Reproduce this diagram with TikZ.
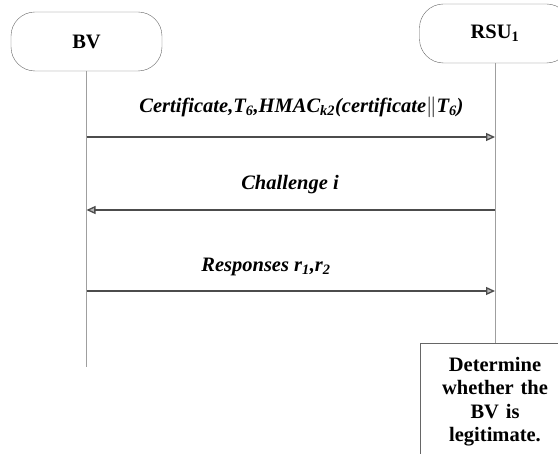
\documentclass[tikz,border=0pt]{standalone}
\usepackage{fontspec}
\setmainfont{Liberation Serif}
\usetikzlibrary{arrows.meta}

\def\bigfont{\fontsize{20.5}{23.5}\selectfont}

\tikzset{
    actor/.style={draw=gray!80!black, fill=white, rounded corners=24pt,
        minimum width=151pt, minimum height=59pt, inner sep=0pt,
        font=\bfseries\bigfont},
    lifeline/.style={draw=gray!75, line width=1pt},
    msg/.style={draw=black!70, line width=1.3pt,
        -{Triangle[length=9pt,width=8pt,fill=gray!55,color=black!70]}},
    msglabel/.style={font=\bfseries\itshape\bigfont, inner sep=0pt},
    checkbox/.style={text width=127pt, align=center, anchor=north,
        inner xsep=11.5pt, inner ysep=14pt, font=\bfseries\bigfont},
    boxline/.style={draw=gray!80!black, fill=white}
}

\begin{document}
\begin{tikzpicture}[x=1pt,y=-1pt]

\useasboundingbox (0,0) rectangle (558,454);
\clip (0,0) rectangle (558,454);

% actors
\node[actor] (bv) at (86.5,41.5) {BV};
\node[actor] (rsu) at (495,33.5) {RSU\textsubscript{1}};

% result box, runs past the lower edge
\fill[white] (420,343) rectangle (570,470);
\node[checkbox] (check) at (495,343) {Determine\\whether the\\BV is\\legitimate.};
\draw[boxline, fill=none] (check.north west) rectangle (check.east |- 0,470);

% lifelines
\coordinate (bvend) at (bv.south |- 0,367);
\draw[lifeline] (bv.south) -- (bvend);
\draw[lifeline] (rsu.south) -- (check.north);

% messages
\coordinate (bv1) at (bv.south |- 0,137);
\coordinate (rsu1) at (rsu.south |- 0,137);
\coordinate (bv2) at (bv.south |- 0,210);
\coordinate (rsu2) at (rsu.south |- 0,210);
\coordinate (bv3) at (bv.south |- 0,291);
\coordinate (rsu3) at (rsu.south |- 0,291);

\draw[msg] (bv1) -- (rsu1);
\draw[msg] (rsu2) -- (bv2);
\draw[msg] (bv3) -- (rsu3);

\node[msglabel] (m1) at (301.5,107) {Certificate,T\textsubscript{6},HMAC\textsubscript{k2}(certificate$\|$T\textsubscript{6})};
\node[msglabel] (m2) at (290,185) {Challenge i};
\node[msglabel] (m3) at (266,267) {Responses r\textsubscript{1},r\textsubscript{2}};

\end{tikzpicture}
\end{document}
